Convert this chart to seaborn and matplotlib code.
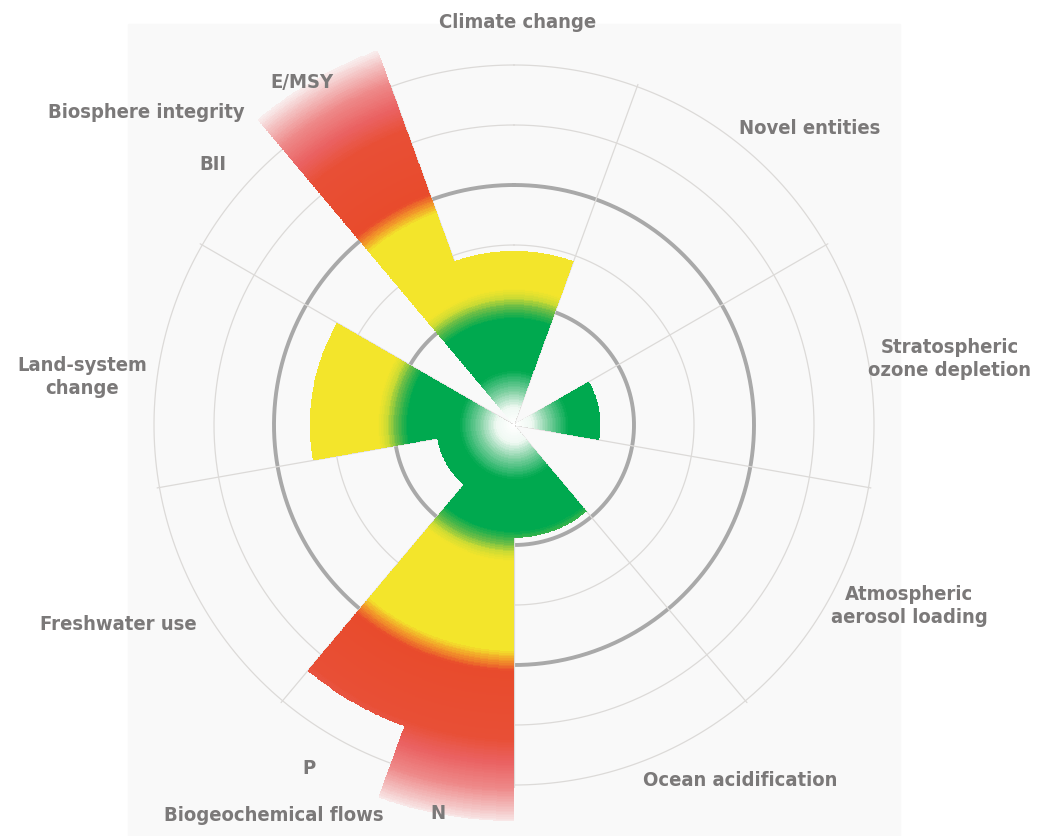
import matplotlib.pyplot as plt
import numpy as np
import seaborn as sns
from matplotlib.colors import LinearSegmentedColormap, Normalize
from matplotlib.patches import Rectangle

sns.set_theme(style="white")
plt.rcParams['font.family'] = ['DejaVu Sans']

# sectors clockwise from the top; values in "boundary" units (1 = safe limit, 2 = high risk)
sectors = ["Climate change", "Novel entities", "Stratospheric ozone depletion",
           "Atmospheric aerosol loading", "Ocean acidification", "Biogeochemical flows N",
           "Biogeochemical flows P", "Freshwater use", "Land-system change",
           "Biosphere integrity BII", "Biosphere integrity E/MSY"]
sector_angle = [0, 40, 80, 120, 160, 190, 210, 240, 280, 310, 330]
sector_width = [40, 40, 40, 40, 40, 20, 20, 40, 40, 20, 20]
sector_value = [1.45, np.nan, 0.72, np.nan, 0.94, 3.3, 2.67, 0.65, 1.7, np.nan, 3.32]

main_labels = ["Climate change", "Novel entities", "Stratospheric\nozone depletion",
               "Atmospheric\naerosol loading", "Ocean acidification", "Biogeochemical flows",
               "Freshwater use", "Land-system\nchange", "Biosphere integrity"]
sub_labels = ["E/MSY", "BII", "P", "N"]

W, H = 1060, 837
cx, cy = 514, 426
R_PX = 420          # axes radius in px
R_MAX = 3.5         # axes radius in data units

# colour along the radius: white core -> green -> yellow -> red -> fade out
stops = [(0.00, '#ffffff'), (0.14, '#f0f9f3'), (0.27, '#86d2a6'), (0.45, '#00a94f'),
         (0.88, '#00a94f'), (0.98, '#62bb47'), (1.06, '#cfdc33'), (1.13, '#f3e52b'),
         (1.88, '#f3e52b'), (1.96, '#f2992a'), (2.05, '#e84b2c'), (2.62, '#e84f36'),
         (2.82, '#ea6262'), (3.04, '#ee8a8a'), (3.22, '#f4c6c6'), (3.36, '#fafafa'),
         (3.50, '#fafafa')]
cmap = LinearSegmentedColormap.from_list("pb", [(p / R_MAX, c) for p, c in stops])
norm = Normalize(0, R_MAX)

fig = plt.figure(figsize=(W / 100, H / 100), dpi=100)
fig.patch.set_facecolor('white')
fig.add_artist(Rectangle((128 / W, 0), (900 - 128) / W, 1 - 25 / H,
                         transform=fig.transFigure, color='#f9f9f9', zorder=-5))

ax = fig.add_axes([cx / W - R_PX / W, 1 - cy / H - R_PX / H, 2 * R_PX / W, 2 * R_PX / H],
                  projection='polar')
ax.set_facecolor('none')
ax.set_theta_zero_location('N')
ax.set_theta_direction(-1)
ax.set_ylim(0, R_MAX)
ax.grid(False)
ax.set_xticks([])
ax.set_yticks([])
ax.spines['polar'].set_visible(False)

# grid: thin rings, thick boundary rings, spokes
circ = np.linspace(0, 2 * np.pi, 600)
for r in [1.5, 2.5, 3.0]:
    ax.plot(circ, np.full_like(circ, r), color='#dcdad8', lw=0.9, zorder=1)
for r in [1.0, 2.0]:
    ax.plot(circ, np.full_like(circ, r), color='#a9a9a9', lw=2.8, zorder=1)
for a in range(20, 360, 40):
    t = np.deg2rad(a)
    ax.plot([t, t], [0, 3.02], color='#dcdad8', lw=0.9, zorder=1)

# wedges with radial gradient
for ang, wid, val in zip(sector_angle, sector_width, sector_value):
    if np.isnan(val):
        continue
    th = np.deg2rad(np.linspace(ang - wid / 2, ang + wid / 2, 61))
    rr = np.linspace(0, val, int(val * 120) + 1)
    T, R = np.meshgrid(th, rr)
    C = np.repeat((0.5 * (rr[:-1] + rr[1:]))[:, None], len(th) - 1, axis=1)
    ax.pcolormesh(T, R, C, cmap=cmap, norm=norm, shading='flat', zorder=3)

# labels
txt = dict(color='#7b7979', fontweight='bold', fontsize=14.5, fontstretch='condensed',
           va='center', linespacing=1.3)
main_pos = [(518, 22), (810, 128), (950, 359), (909, 606), (740, 781), (274, 816),
            (118, 625), (82, 377), (245, 112)]
main_ha = ['center'] * 8 + ['right']
sub_pos = [(302, 82), (213, 165), (309, 769), (438, 814)]
for s, (x, y), ha in zip(main_labels, main_pos, main_ha):
    fig.text(x / W, 1 - y / H, s, ha=ha, multialignment='center', **txt)
for s, (x, y) in zip(sub_labels, sub_pos):
    fig.text(x / W, 1 - y / H, s, ha='center', **txt)

fig.savefig('out.png', dpi=100)
